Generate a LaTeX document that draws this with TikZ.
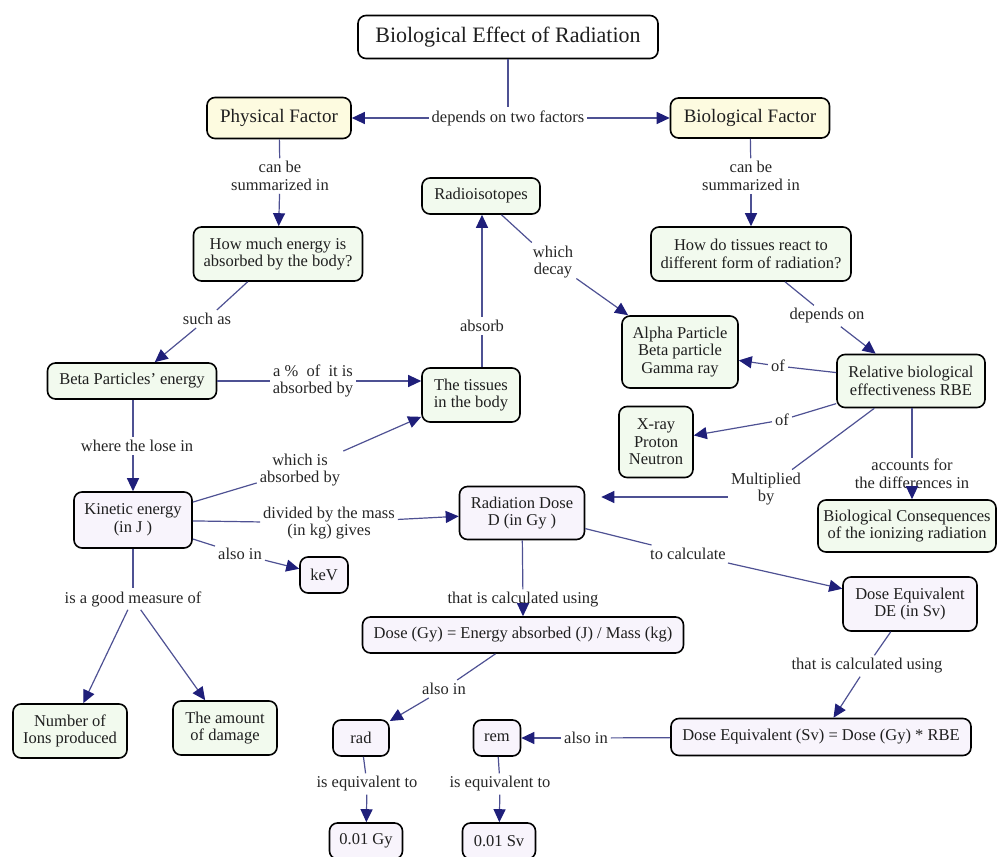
\documentclass[tikz,border=0pt]{standalone}
\usepackage{fontspec}
\setmainfont{Liberation Serif}
\usetikzlibrary{arrows.meta}
\definecolor{factorfill}{HTML}{FDFBE0}
\definecolor{greenfill}{HTML}{F2FAEE}
\definecolor{lilacfill}{HTML}{F8F4FC}
\definecolor{linkblue}{HTML}{4E5193}
\definecolor{headblue}{HTML}{1F1F7A}
\begin{document}
\begin{tikzpicture}[x=1pt, y=-1pt,
    concept/.style={draw=black, line width=1.6pt, rounded corners=8pt, align=center,
        inner sep=2pt, font=\fontsize{16.5}{17.5}\selectfont, text=black!88},
    green/.style={concept, fill=greenfill},
    lilac/.style={concept, fill=lilacfill},
    factor/.style={concept, fill=factorfill, font=\fontsize{19}{21}\selectfont},
    link/.style={align=center, inner sep=3pt, font=\fontsize{16.5}{17.5}\selectfont, text=black!85},
    conn/.style={draw=linkblue, line width=1.2pt},
    arr/.style={conn, -{Triangle[length=13pt,width=12pt,color=headblue]}}]
    \useasboundingbox (0,0) rectangle (997,857);
    % concepts
    \node[concept, fill=white, minimum width=300pt, minimum height=43pt,
        font=\fontsize{22}{24}\selectfont] (title) at (508,37) {Biological Effect of Radiation};
    \node[factor, minimum width=144pt, minimum height=41pt] (phys) at (279,118) {Physical Factor};
    \node[factor, minimum width=159pt, minimum height=40pt] (bio) at (750,118) {Biological Factor};
    \node[green, minimum width=169pt, minimum height=54pt] (howmuch) at (278,254) {How much energy is\\absorbed by the body?};
    \node[green, minimum width=200pt, minimum height=54pt] (howdo) at (751,254) {How do tissues react to\\different form of radiation?};
    \node[green, minimum width=118pt, minimum height=36pt] (radio) at (481,196) {Radioisotopes};
    \node[green, minimum width=116pt, minimum height=72pt] (alpha) at (680,352) {Alpha Particle\\Beta particle\\Gamma ray};
    \node[green, minimum width=148pt, minimum height=53pt] (rbe) at (911,381) {Relative biological\\effectiveness RBE};
    \node[green, minimum width=74pt, minimum height=71pt] (xray) at (656,442) {X-ray\\Proton\\Neutron};
    \node[green, minimum width=178pt, minimum height=52pt] (cons) at (907,526) {Biological Consequences\\of the ionizing radiation};
    \node[green, minimum width=169pt, minimum height=36pt] (beta) at (132,381) {Beta Particles’ energy};
    \node[green, minimum width=98pt, minimum height=54pt] (tissues) at (471,395) {The tissues\\in the body};
    \node[lilac, minimum width=118pt, minimum height=56pt] (kinetic) at (133,520) {Kinetic energy\\(in J )};
    \node[lilac, minimum width=125pt, minimum height=53pt] (raddose) at (522,513) {Radiation Dose\\D (in Gy )};
    \node[lilac, minimum width=48pt, minimum height=36pt] (kev) at (324,575) {keV};
    \node[green, minimum width=114pt, minimum height=54pt] (ions) at (70,731) {Number of\\Ions produced};
    \node[green, minimum width=104pt, minimum height=54pt] (damage) at (225,728) {The amount\\of damage};
    \node[lilac, minimum width=321pt, minimum height=36pt] (dosegy) at (523,635) {Dose (Gy) = Energy absorbed (J) / Mass (kg)};
    \node[lilac, minimum width=134pt, minimum height=54pt] (de) at (910,604) {Dose Equivalent\\DE (in Sv)};
    \node[lilac, minimum width=300pt, minimum height=37pt] (deq) at (821,737) {Dose Equivalent (Sv) = Dose (Gy) * RBE};
    \node[lilac, minimum width=47pt, minimum height=36pt] (rem) at (497,738) {rem};
    \node[lilac, minimum width=56pt, minimum height=36pt] (rad) at (361,738) {rad};
    \node[lilac, minimum width=73pt, minimum height=36pt] (gy) at (366,841) {0.01 Gy};
    \node[lilac, minimum width=73pt, minimum height=36pt] (sv) at (499,841) {0.01 Sv};
    % linking words
    \node[link] (twofac) at (508,118) {depends on two factors};
    \node[link] (cbs1) at (280,176) {can be\\summarized in};
    \node[link] (cbs2) at (751,176) {can be\\summarized in};
    \node[link] (decay) at (553,262) {which\\decay};
    \node[link] (depon) at (827,316) {depends on};
    \node[link] (of1) at (778,366) {of};
    \node[link] (of2) at (782,420) {of};
    \node[link] (mult) at (766,489) {Multiplied\\by};
    \node[link, inner sep=1pt] (accounts) at (912,474) {accounts for\\the differences in};
    \node[link] (suchas) at (207,319) {such as};
    \node[link] (pct) at (313,381) {a \%~ of~ it is\\absorbed by};
    \node[link] (absorb) at (482,326) {absorb};
    \node[link] (wherelose) at (137,446) {where the lose in};
    \node[link] (whichabs) at (300,470) {which is\\absorbed by};
    \node[link] (divided) at (329,523) {divided by the mass\\(in kg) gives};
    \node[link] (alsoin1) at (240,554) {also in};
    \node[link] (goodmeas) at (133,599) {is a good measure of};
    \node[link] (calc1) at (523,600) {that is calculated using};
    \node[link] (tocalc) at (688,554) {to calculate};
    \node[link] (calc2) at (867,666) {that is calculated using};
    \node[link] (alsoin2) at (586,738) {also in};
    \node[link] (alsoin3) at (444,689) {also in};
    \node[link] (equiv1) at (367,784) {is equivalent to};
    \node[link] (equiv2) at (500,784) {is equivalent to};
    % connectors
    \draw[conn] (title.south -| twofac) -- (twofac);
    \draw[arr] (twofac) -- (phys);
    \draw[arr] (twofac) -- (bio);
    \draw[conn] (phys) -- (cbs1);
    \draw[arr] (cbs1) -- (howmuch);
    \draw[conn] (bio) -- (cbs2);
    \draw[arr] (cbs2) -- (howdo);
    \draw[conn] (radio) -- (decay);
    \draw[arr] (decay) -- (alpha);
    \draw[conn] (howdo) -- (depon);
    \draw[arr] (depon) -- (rbe);
    \draw[conn] (rbe) -- (of1);
    \draw[arr] (of1) -- (alpha);
    \draw[conn] (rbe) -- (of2);
    \draw[arr] (of2) -- (xray);
    \draw[conn] (rbe) -- (mult);
    \draw[arr, shorten >=16pt] ([yshift=-8pt]mult.west) -- ([yshift=16pt]raddose.east);
    \draw[conn] (rbe.south -| accounts) -- (accounts);
    \draw[arr] (accounts) -- (cons.north -| accounts);
    \draw[conn] (howmuch) -- (suchas);
    \draw[arr] (suchas) -- (beta);
    \draw[conn] (beta) -- (pct);
    \draw[arr] (pct) -- (tissues.west |- pct);
    \draw[conn] (tissues.north -| absorb) -- (absorb);
    \draw[arr] (absorb) -- (radio.south -| absorb);
    \draw[conn] (beta.south -| kinetic) -- (wherelose.north -| kinetic);
    \draw[arr] (wherelose.south -| kinetic) -- (kinetic);
    \draw[conn] (kinetic) -- (whichabs);
    \draw[arr] (whichabs) -- (tissues);
    \draw[conn] (kinetic) -- (divided);
    \draw[arr] (divided) -- (raddose);
    \draw[conn] (kinetic) -- (alsoin1);
    \draw[arr] (alsoin1) -- (kev);
    \draw[conn] (kinetic) -- (goodmeas);
    \draw[arr] (goodmeas) -- (ions);
    \draw[arr] (goodmeas) -- (damage);
    \draw[conn] (raddose) -- (calc1);
    \draw[arr] (calc1) -- (dosegy);
    \draw[conn] (raddose) -- (tocalc);
    \draw[arr] (tocalc) -- (de);
    \draw[conn] (de) -- (calc2);
    \draw[arr] (calc2) -- (deq);
    \draw[conn] (deq) -- (alsoin2);
    \draw[arr] (alsoin2) -- (rem);
    \draw[conn] (dosegy) -- (alsoin3);
    \draw[arr] (alsoin3) -- (rad);
    \draw[conn] (rad) -- (equiv1);
    \draw[arr] (equiv1) -- (gy);
    \draw[conn] (rem) -- (equiv2);
    \draw[arr] (equiv2) -- (sv);
\end{tikzpicture}
\end{document}
